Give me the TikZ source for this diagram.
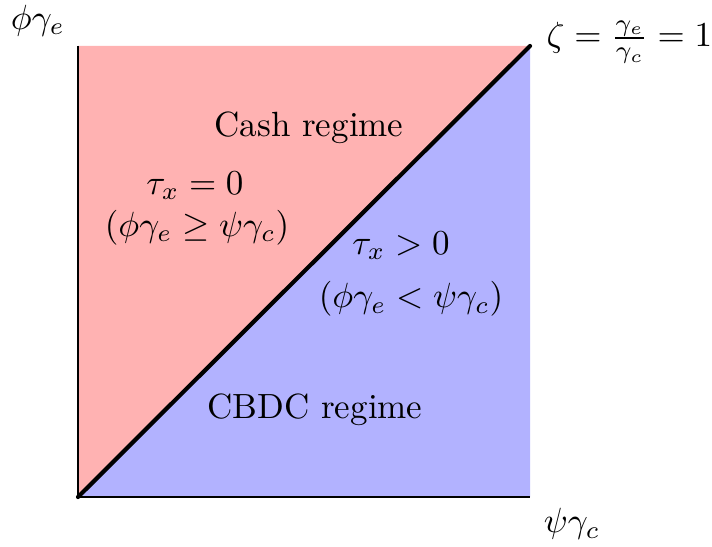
\documentclass[tikz,border=0pt]{standalone}
\begin{document}
\begin{tikzpicture}[x=0.285714pt,y=-0.285714pt,
  lbl/.style={inner sep=0pt,font=\normalsize},
  axis/.style={draw=black,line width=0.4pt},
  diag/.style={draw=black,line width=1.2pt,line cap=round}]
\useasboundingbox (0,0) rectangle (712,546);
\coordinate (O) at (78,497);
\coordinate (TL) at (78,46);
\coordinate (TR) at (530,46);
\coordinate (BR) at (530,497);
\fill[red!30] (O) -- (TL) -- (TR) -- cycle;
\fill[blue!30] (O) -- (TR) -- (BR) -- cycle;
\draw[axis] (TL) -- (O) -- (BR);
\draw[diag] (O) -- (TR);
\node[lbl] (ylab) at (38,21) {$\phi\gamma_e$};
\node[lbl,anchor=west] (zeta) at (546,42) {$\zeta=\frac{\gamma_e}{\gamma_c}=1$};
\node[lbl] (xlab) at (572,524) {$\psi\gamma_c$};
\node[lbl] (cash) at (309,128) {Cash regime};
\node[lbl] (t0) at (195,186) {$\tau_x=0$};
\node[lbl] (c0) at (197,228) {$(\phi\gamma_e\geq\psi\gamma_c)$};
\node[lbl] (t1) at (401,246) {$\tau_x>0$};
\node[lbl] (c1) at (411,299) {$(\phi\gamma_e<\psi\gamma_c)$};
\node[lbl] (cbdc) at (315,410) {CBDC regime};
\end{tikzpicture}
\end{document}
